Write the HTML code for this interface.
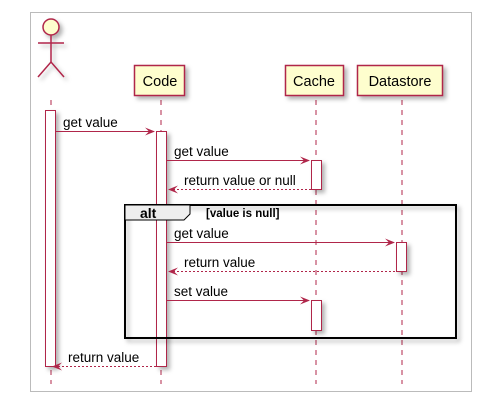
<!DOCTYPE html>
<html><head><style>body{margin:0;background:#fff}</style></head><body>
<svg width="486" height="410" xmlns="http://www.w3.org/2000/svg" font-family="Liberation Sans, sans-serif">
<defs>
<filter id="sh" x="-20%" y="-20%" width="150%" height="150%"><feDropShadow dx="3" dy="3" stdDeviation="2" flood-color="#000" flood-opacity="0.3"/></filter>
</defs>
<rect x="30.5" y="12.5" width="441" height="379" fill="#fff" stroke="#bbb"/>
<g stroke="#B0264A" stroke-dasharray="5,5" stroke-width="1">
<line x1="51" y1="100" x2="51" y2="384"/>
<line x1="161" y1="100" x2="161" y2="384"/>
<line x1="316" y1="100" x2="316" y2="384"/>
<line x1="402" y1="100" x2="402" y2="384"/>
</g>
<g filter="url(#sh)" stroke="#B0264A" stroke-width="1.5" fill="#FEFECE">
<circle cx="51" cy="27" r="8"/>
<line x1="51" y1="35" x2="51" y2="62"/>
<line x1="38" y1="43" x2="64" y2="43"/>
<polyline points="38,77 51,62 64,77" fill="none"/>
<rect x="134.5" y="65.5" width="50" height="30"/>
<rect x="285.5" y="65.5" width="58" height="30"/>
<rect x="357.5" y="65.5" width="85" height="30"/>
</g>
<g font-size="14.5" fill="#000" text-anchor="middle">
<text x="160" y="86">Code</text>
<text x="314" y="86">Cache</text>
<text x="400" y="86">Datastore</text>
</g>
<g filter="url(#sh)" stroke="#B0264A" stroke-width="1" fill="#fff">
<rect x="45.5" y="110.5" width="10" height="256"/>
<rect x="156.5" y="131.5" width="10" height="235"/>
<rect x="311.5" y="160.5" width="10" height="29"/>
<rect x="396.5" y="242.5" width="10" height="29"/>
<rect x="311.5" y="300.5" width="10" height="30"/>
</g>
<g filter="url(#sh)">
<rect x="125" y="205" width="331" height="133" fill="none" stroke="#000" stroke-width="2"/>
</g>
<path d="M125,205 H190 V214 L184,220 H125 Z" fill="#eee" stroke="#000" stroke-width="1"/>
<text x="140" y="218" font-size="14" font-weight="bold">alt</text>
<text x="206" y="217" font-size="11.5" font-weight="bold">[value is null]</text>
<g stroke="#B0264A" stroke-width="1" fill="none">
<line x1="56" y1="131.5" x2="154" y2="131.5"/>
<line x1="167" y1="160.5" x2="309" y2="160.5"/>
<line x1="169" y1="189.5" x2="311" y2="189.5" stroke-dasharray="2,2"/>
<line x1="167" y1="242.5" x2="394" y2="242.5"/>
<line x1="169" y1="271.5" x2="396" y2="271.5" stroke-dasharray="2,2"/>
<line x1="167" y1="300.5" x2="309" y2="300.5"/>
<line x1="58" y1="366.5" x2="156" y2="366.5" stroke-dasharray="2,2"/>
</g>
<g fill="#B0264A">
<path d="M155,131.5 l-10,-4 l4,4 l-4,4z"/>
<path d="M310,160.5 l-10,-4 l4,4 l-4,4z"/>
<path d="M395,242.5 l-10,-4 l4,4 l-4,4z"/>
<path d="M310,300.5 l-10,-4 l4,4 l-4,4z"/>
<path d="M168,189.5 l10,-4 l-4,4 l4,4z"/>
<path d="M168,271.5 l10,-4 l-4,4 l4,4z"/>
<path d="M52,366.5 l10,-4 l-4,4 l4,4z"/>
</g>
<g font-size="13.5" fill="#000">
<text x="63" y="127">get value</text>
<text x="174" y="156">get value</text>
<text x="184" y="185">return value or null</text>
<text x="174" y="238">get value</text>
<text x="184" y="267">return value</text>
<text x="174" y="296">set value</text>
<text x="68" y="362">return value</text>
</g>
</svg>
</body></html>
